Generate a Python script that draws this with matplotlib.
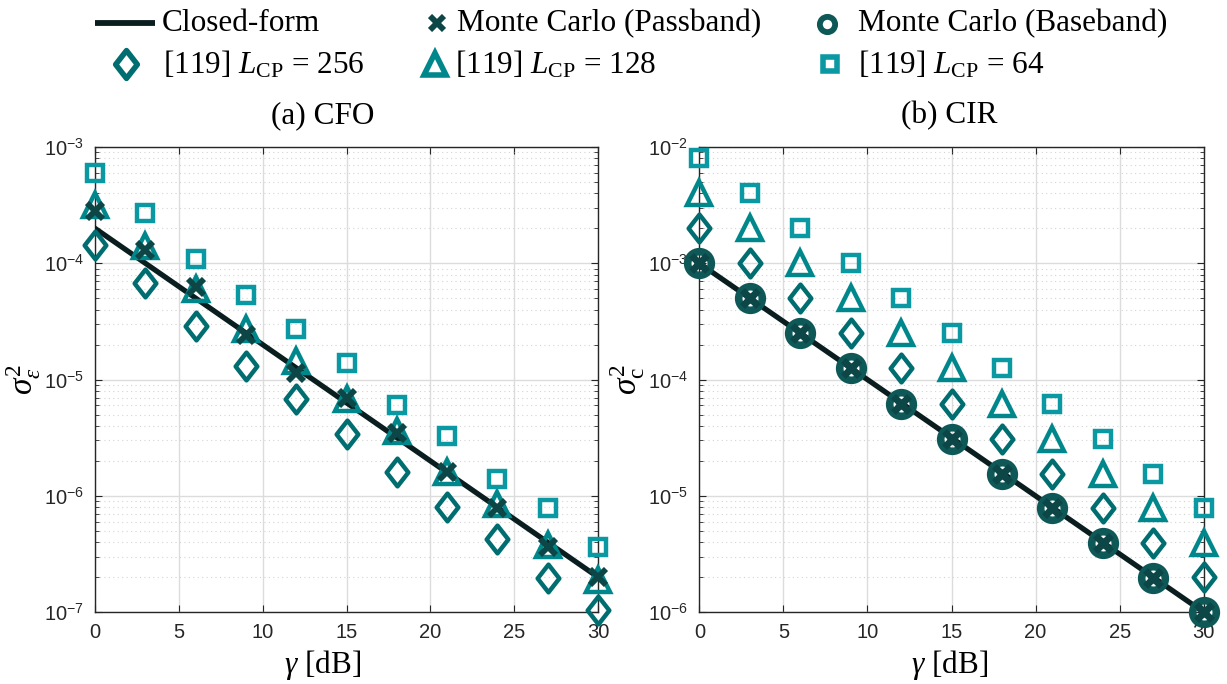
import numpy as np
import matplotlib
matplotlib.use("Agg")
import matplotlib.pyplot as plt
from matplotlib.path import Path
from matplotlib.ticker import LogLocator, NullFormatter, FuncFormatter

plt.rcParams['mathtext.fontset'] = 'custom'
plt.rcParams['mathtext.rm'] = 'Liberation Serif'
plt.rcParams['mathtext.it'] = 'Liberation Serif:italic'
plt.rcParams['mathtext.bf'] = 'Liberation Serif:bold'

SERIF = 'Liberation Serif'
SANS = 'Liberation Sans'

# SNR grid [dB]
gamma = [0, 3, 6, 9, 12, 15, 18, 21, 24, 27, 30]
gamma_line = [0, 30]

# (a) CFO estimation error variance
cfo_closed = [2.0e-4, 2.0e-7]
cfo_mc_pass = [2.8e-4, 1.3e-4, 6.3e-5, 2.4e-5, 1.15e-5, 7.0e-6, 3.5e-6, 1.6e-6, 7.8e-7, 3.6e-7, 2.0e-7]
cfo_cp256 = [1.45e-4, 6.8e-5, 2.9e-5, 1.3e-5, 6.8e-6, 3.4e-6, 1.6e-6, 8.0e-7, 4.3e-7, 1.95e-7, 1.05e-7]
cfo_cp128 = [3.2e-4, 1.4e-4, 6.0e-5, 2.7e-5, 1.45e-5, 6.8e-6, 3.6e-6, 1.6e-6, 8.5e-7, 3.8e-7, 1.9e-7]
cfo_cp64 = [6.0e-4, 2.7e-4, 1.1e-4, 5.3e-5, 2.7e-5, 1.4e-5, 6.0e-6, 3.3e-6, 1.4e-6, 7.8e-7, 3.6e-7]

# (b) CIR estimation error variance
cir_closed = [1.0e-3, 1.0e-6]
cir_mc_pass = [1.0e-3, 5.0e-4, 2.5e-4, 1.25e-4, 6.2e-5, 3.1e-5, 1.55e-5, 7.8e-6, 3.9e-6, 1.95e-6, 1.0e-6]
cir_mc_base = [1.0e-3, 5.0e-4, 2.5e-4, 1.25e-4, 6.2e-5, 3.1e-5, 1.55e-5, 7.8e-6, 3.9e-6, 1.95e-6, 1.0e-6]
cir_cp256 = [2.0e-3, 1.0e-3, 5.0e-4, 2.5e-4, 1.25e-4, 6.2e-5, 3.1e-5, 1.55e-5, 7.8e-6, 3.9e-6, 2.0e-6]
cir_cp128 = [4.0e-3, 2.0e-3, 1.0e-3, 5.0e-4, 2.5e-4, 1.25e-4, 6.2e-5, 3.1e-5, 1.55e-5, 7.8e-6, 3.9e-6]
cir_cp64 = [8.0e-3, 4.0e-3, 2.0e-3, 1.0e-3, 5.0e-4, 2.5e-4, 1.25e-4, 6.2e-5, 3.1e-5, 1.55e-5, 7.8e-6]

xticks = [0, 5, 10, 15, 20, 25, 30]

legend_labels = ['Closed-form', 'Monte Carlo (Passband)', 'Monte Carlo (Baseband)',
                 r'[119] $L_{\mathrm{CP}}$ = 256', r'[119] $L_{\mathrm{CP}}$ = 128',
                 r'[119] $L_{\mathrm{CP}}$ = 64']

C_LINE = '#0a1e20'
C_PASS = '#0c4646'
C_BASE = '#0e5858'
C_256 = '#006e70'
C_128 = '#00878b'
C_64 = '#0a99a3'

# a slightly narrow diamond
DIAMOND = Path([(0, 1), (0.78, 0), (0, -1), (-0.78, 0), (0, 1)],
               [Path.MOVETO, Path.LINETO, Path.LINETO, Path.LINETO, Path.CLOSEPOLY])

fig = plt.figure(figsize=(12.27, 6.84), dpi=100)
axL = fig.add_axes([0.0774, 0.105, 0.410, 0.680])
axR = fig.add_axes([0.5700, 0.105, 0.411, 0.680])

sty_256 = dict(ls='none', marker=DIAMOND, ms=20, mfc='none', mec=C_256, mew=3.2)
sty_128 = dict(ls='none', marker='^', ms=17, mfc='none', mec=C_128, mew=3.2)
sty_64 = dict(ls='none', marker='s', ms=11.5, mfc='none', mec=C_64, mew=3.2)
sty_pass = dict(ls='none', marker='x', ms=11, mec=C_PASS, mew=4.2)
sty_base = dict(ls='none', marker='o', ms=17, mfc='none', mec=C_BASE, mew=5.5)
sty_line = dict(color=C_LINE, lw=3.8)


def sci_fmt(v, pos):
    e = int(round(np.log10(v)))
    return r'$\mathregular{10^{%d}}$' % e


def style_axes(ax, ylo, yhi, ylabel, title, xcenter):
    ax.set_yscale('log')
    ax.set_xlim(0, 30)
    ax.set_ylim(ylo, yhi)
    ax.set_xticks(xticks)
    ax.yaxis.set_major_locator(LogLocator(base=10, numticks=10))
    ax.yaxis.set_minor_locator(LogLocator(base=10, subs=np.arange(2, 10), numticks=50))
    ax.yaxis.set_minor_formatter(NullFormatter())
    ax.yaxis.set_major_formatter(FuncFormatter(sci_fmt))
    ax.grid(True, which='major', color='#dcdcdc', lw=1.0, ls='-')
    ax.grid(True, which='minor', axis='y', color='#d4d4d4', lw=0.8, ls=(0, (1, 3)))
    ax.set_axisbelow(True)
    ax.tick_params(which='both', direction='in', top=True, right=True,
                   colors='#262626', labelcolor='#262626', labelsize=14.5, pad=8)
    ax.tick_params(which='major', length=5)
    ax.tick_params(which='minor', length=3)
    for lab in ax.get_xticklabels() + ax.get_yticklabels():
        lab.set_fontfamily(SANS)
    for sp in ax.spines.values():
        sp.set_color('#262626')
        sp.set_linewidth(1.0)
    ax.set_xlabel(r'$\gamma$ [dB]', fontsize=22.5, family=SERIF, labelpad=0)
    ax.xaxis.set_label_coords(xcenter, -0.078)
    ax.set_ylabel(ylabel, fontsize=24, family=SERIF)
    ax.yaxis.set_label_coords(-0.104, 0.5)
    ax.set_title(title, fontsize=22.5, family=SERIF, x=xcenter, y=1.0, pad=17)


# (a) CFO
axL.plot(gamma_line, cfo_closed, **sty_line, zorder=3)
axL.plot(gamma, cfo_cp256, **sty_256, clip_on=False, zorder=4)
axL.plot(gamma, cfo_cp128, **sty_128, clip_on=False, zorder=4)
axL.plot(gamma, cfo_cp64, **sty_64, clip_on=False, zorder=4)
axL.plot(gamma, cfo_mc_pass, **sty_pass, clip_on=False, zorder=5)
style_axes(axL, 1e-7, 1e-3, r'$\sigma^2_{\epsilon}$', '(a) CFO', 0.452)

# (b) CIR
axR.plot(gamma_line, cir_closed, **sty_line, zorder=3)
axR.plot(gamma, cir_cp256, **sty_256, clip_on=False, zorder=4)
axR.plot(gamma, cir_cp128, **sty_128, clip_on=False, zorder=4)
axR.plot(gamma, cir_cp64, **sty_64, clip_on=False, zorder=4)
axR.plot(gamma, cir_mc_base, **sty_base, clip_on=False, zorder=5)
axR.plot(gamma, cir_mc_pass, **dict(sty_pass, ms=11, mew=5), clip_on=False, zorder=6)
style_axes(axR, 1e-6, 1e-2, r'$\sigma^2_{\mathrm{c}}$', '(b) CIR', 0.496)

# legend laid out on a figure-sized overlay (pixel units, y downwards)
leg = fig.add_axes([0, 0, 1, 1], zorder=10)
leg.set_xlim(0, 1227)
leg.set_ylim(684, 0)
leg.axis('off')

row_mark = [23, 64]
row_text = [31, 73]
leg.plot([95, 155], [row_mark[0], row_mark[0]], color=C_LINE, lw=4.2, solid_capstyle='butt')
leg.plot([437], [row_mark[0]], ls='none', marker='x', ms=9.5, mec=C_PASS, mew=4.2)
leg.plot([827], [row_mark[0] + 1], ls='none', marker='o', ms=11, mfc='none', mec=C_BASE, mew=4.2)
leg.plot([126], [row_mark[1]], ls='none', marker=DIAMOND, ms=20, mfc='none', mec=C_256, mew=4)
leg.plot([435], [row_mark[1]], ls='none', marker='^', ms=16, mfc='none', mec=C_128, mew=4)
leg.plot([830], [row_mark[1]], ls='none', marker='s', ms=10, mfc='none', mec=C_64, mew=4)

text_x = [162, 457, 858, 163, 455, 858]
text_y = [row_text[0]] * 3 + [row_text[1]] * 3
for tx, ty, lab in zip(text_x, text_y, legend_labels):
    leg.text(tx, ty, lab, fontsize=22.5, family=SERIF, ha='left', va='baseline')

fig.savefig('out.png', dpi=100)
